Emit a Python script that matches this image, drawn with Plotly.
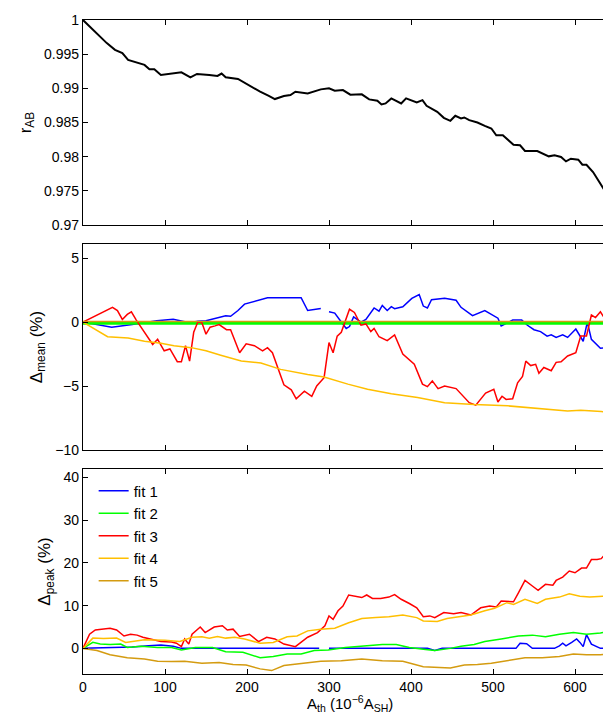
import plotly.graph_objects as go

# top panel: correlation r_AB
r_x = [0, 29, 39, 48, 55, 66, 75, 81, 87, 95, 108, 120, 131, 139, 154, 164, 169, 174, 189, 203, 216, 226, 234,
       245, 253, 259, 274, 290, 300, 307, 317, 326, 340, 349, 359, 364, 369, 376, 388, 394, 407, 414, 419, 432,
       440, 448, 454, 461, 465, 471, 481, 490, 498, 504, 512, 525, 533, 539, 554, 568, 575, 583, 589, 595, 604,
       609, 614, 622, 629, 635, 641, 649]
r_ab = [1.0, 0.99662, 0.99564, 0.99515, 0.99417, 0.99382, 0.99343, 0.99279, 0.99279, 0.99196, 0.99211, 0.99235,
        0.99162, 0.99211, 0.99196, 0.99181, 0.99216, 0.99162, 0.99137, 0.99034, 0.98951, 0.98892, 0.98843, 0.98887,
        0.98902, 0.98951, 0.98926, 0.98985, 0.99, 0.98966, 0.98975, 0.98907, 0.98912, 0.98838, 0.98819, 0.98765,
        0.98779, 0.98853, 0.98779, 0.98853, 0.98794, 0.98828, 0.98745, 0.98657, 0.98569, 0.98525, 0.98598, 0.98559,
        0.98574, 0.98534, 0.985, 0.98451, 0.98412, 0.98314, 0.98314, 0.98176, 0.98167, 0.98083, 0.98083, 0.98005,
        0.9802, 0.97995, 0.97931, 0.97971, 0.97956, 0.97882, 0.97882, 0.97775, 0.97652, 0.97529, 0.97519, 0.97441]

# middle panel: Delta mean (%)
m1_x = [0, 30, 35, 60, 90, 110, 130, 140, 150, 174, 180, 189, 197, 225, 266, 274, 290, 295, 300, 307, 315, 321,
        325, 330, 339, 345, 355, 361, 365, 371, 376, 380, 390, 401, 410, 415, 420, 425, 441, 455, 461, 475, 490,
        506, 510, 524, 535, 542, 550, 558, 566, 571, 577, 585, 591, 601, 610, 615, 620, 631, 641, 650]
m1_y = [0, -0.3, -0.4, -0.2, 0.1, 0.22, -0.05, 0.07, 0.1, 0.5, 0.45, 0.9, 1.4, 1.9, 1.9, 0.9, 1.05, None, 0.8,
        0.7, 0, -0.5, -0.35, 0.4, 0, 0.2, 1.1, 0.85, 1.3, 0.9, 1.2, 1.05, 1.2, 1.85, 2.15, 1.25, 1.1, 1.75, 1.85,
        1.7, 1.15, 0.5, 0.9, 0.3, -0.3, 0.15, 0.15, -0.25, -0.6, -0.75, -1.1, -1.0, -1.2, -1.0, -1.2, -0.55, -1.5,
        0, -1.35, -2.05, -2.0, -2.4]
m2_x = [0, 650]
m2_y = [-0.1, -0.1]
m3_x = [0, 30, 36, 42, 48, 54, 59, 65, 71, 85, 91, 99, 106, 115, 120, 125, 130, 135, 140, 145, 150, 155, 161,
        166, 175, 180, 191, 199, 209, 219, 225, 231, 245, 254, 260, 270, 279, 285, 294, 300, 305, 310, 315, 325,
        331, 339, 345, 351, 355, 361, 371, 380, 390, 404, 414, 420, 426, 433, 441, 455, 471, 479, 491, 501, 506,
        511, 516, 524, 530, 536, 540, 546, 552, 556, 562, 571, 577, 583, 591, 601, 607, 614, 620, 625, 631, 636,
        641, 646, 650]
m3_y = [0, 1.0, 1.15, 0.9, 0.2, 0.6, 0.8, 0.15, -0.45, -1.75, -1.35, -2.25, -2.1, -3.1, -3.1, -1.85, -3.05, -0.8,
        0, -0.05, -0.95, -0.4, -0.3, -0.2, -0.6, -0.6, -2.4, -1.7, -1.85, -2.25, -2.0, -2.4, -4.9, -5.3, -6.0,
        -5.4, -5.8, -5.0, -4.35, -1.6, -2.4, -1.1, -0.8, 1.0, 0.75, -0.25, -0.15, -0.75, -0.5, -1.15, -1.45, -1.0,
        -2.5, -3.3, -4.85, -5.05, -4.6, -5.2, -5.0, -5.2, -6.3, -6.5, -5.55, -5.25, -6.25, -5.8, -6.05, -6.0,
        -4.75, -4.25, -3.05, -3.4, -3.3, -4.0, -3.55, -3.8, -3.15, -3.1, -2.65, -2.4, -1.1, -1.1, 0.55, 0.35,
        0.8, 0.3, 0.8, 0.45, 0]
m4_x = [0, 30, 55, 75, 95, 111, 132, 150, 168, 193, 217, 241, 274, 294, 323, 347, 376, 408, 441, 477, 518, 542,
        575, 591, 607, 632, 650]
m4_y = [0, -1.15, -1.25, -1.5, -1.65, -1.85, -2.0, -2.25, -2.6, -3.05, -3.2, -3.7, -4.1, -4.3, -4.85, -5.25,
        -5.6, -5.9, -6.3, -6.45, -6.55, -6.7, -6.9, -6.95, -6.9, -7.0, -7.15]
m5_x = [0, 650]
m5_y = [0.05, 0.05]

# bottom panel: Delta peak (%)
p1_x = [0, 60, 80, 95, 110, 120, 288, None, 300, 420, 429, 438, 528, 533, 541, 548, 575, 581, 585, 589, 596,
        602, 606, 610, 614, 620, 631, 650]
p1_y = [0, 0.3, 0.6, 0.8, 0.5, 0, 0, None, 0, 0, -0.5, 0, 0, 1.2, 1.1, 0, 0, 0.6, 1.2, 0.6, 1.4, 2.2, 1.4, 0.4,
        3.2, 1.0, 0, 0]
p2_x = [0, 12, 21, 33, 46, 54, 71, 91, 108, 120, 137, 158, 174, 195, 216, 232, 249, 266, 282, 299, 320, 344, 365,
        382, 398, 415, 429, 448, 461, 477, 490, 510, 531, 548, 564, 581, 598, 614, 631, 649]
p2_y = [0, 1.4, 1.0, 0.9, 1.0, 0.2, 0.5, 0.2, 0.2, -0.4, 0.2, 0.2, -0.8, -0.9, -2.2, -1.9, -1.3, -1.3, -0.5,
        -0.4, 0.2, 0.6, 0.9, 0.9, 0.2, -0.2, -0.5, 0, 0.5, 0.9, 1.6, 2.2, 2.9, 3.1, 2.7, 3.3, 3.7, 3.3, 3.6, 4.3]
p3_x = [0, 8, 15, 23, 33, 41, 50, 58, 66, 73, 83, 95, 108, 114, 120, 124, 129, 133, 143, 149, 160, 170, 176, 183,
        191, 203, 214, 224, 234, 245, 259, 274, 286, 295, 300, 305, 311, 317, 324, 334, 340, 346, 353, 363, 373,
        380, 388, 398, 407, 415, 423, 429, 440, 452, 461, 473, 485, 496, 504, 510, 525, 531, 539, 548, 555, 564,
        573, 577, 585, 593, 600, 608, 614, 620, 627, 632, 637, 643, 649]
p3_y = [0, 3.3, 4.3, 4.5, 4.7, 4.3, 2.9, 3.3, 3.1, 2.6, 2.2, 1.6, 1.5, 1.2, 0.4, 2.2, 1.0, 3.3, 5.0, 3.7, 5.0,
        5.3, 4.3, 4.5, 2.8, 3.3, 1.6, 2.6, 2.2, 1.0, 0.4, 2.6, 3.7, 5.3, 7.6, 6.8, 8.8, 9.9, 12.5, 12.2, 11.9,
        12.5, 11.7, 11.7, 12.0, 12.6, 11.5, 10.5, 9.5, 7.4, 7.6, 7.2, 8.4, 8.1, 8.4, 7.8, 9.5, 9.9, 9.7, 11.1,
        10.9, 13.0, 15.9, 14.6, 13.6, 15.0, 14.8, 15.9, 16.7, 18.1, 17.7, 18.8, 18.8, 20.8, 20.8, 21.0, 22.1,
        22.2, 21.8]
p4_x = [0, 12, 25, 41, 52, 62, 75, 100, 118, 133, 145, 154, 164, 174, 185, 197, 216, 232, 249, 261, 274, 290,
        307, 324, 340, 357, 373, 390, 407, 415, 432, 444, 456, 473, 490, 502, 517, 525, 539, 554, 564, 581, 593,
        606, 618, 635, 649]
p4_y = [0, 2.4, 2.3, 2.4, 1.4, 1.6, 2.0, 1.9, 1.6, 2.6, 2.7, 2.4, 2.8, 2.4, 2.6, 2.2, 1.2, 1.4, 2.7, 2.9, 4.1,
        4.5, 4.7, 6.0, 7.0, 7.2, 7.4, 7.8, 7.2, 6.4, 6.3, 7.0, 7.4, 7.8, 8.8, 9.4, 10.7, 10.3, 11.5, 10.5, 11.5,
        12.0, 12.8, 12.2, 12.0, 12.2, 13.6]
p5_x = [0, 17, 33, 54, 75, 91, 108, 124, 145, 166, 183, 199, 216, 230, 245, 266, 290, 315, 340, 365, 390, 415,
        432, 448, 465, 481, 498, 519, 539, 560, 581, 598, 614, 631, 649]
p5_y = [0, -0.5, -1.5, -2.2, -2.5, -3.0, -3.1, -3.0, -3.5, -3.3, -3.8, -3.9, -4.8, -5.2, -4.0, -3.6, -3.0, -2.9,
        -2.5, -2.9, -3.0, -4.3, -4.4, -4.6, -3.9, -3.8, -3.5, -2.9, -2.2, -2.2, -1.9, -1.3, -1.5, -1.5, -1.2]

names = ["fit 1", "fit 2", "fit 3", "fit 4", "fit 5"]
colors = ["#0000ff", "#00ff00", "#ff0000", "#ffbf00", "#d49b10"]

fig = go.Figure()
fig.add_trace(go.Scatter(x=r_x, y=r_ab, mode="lines", line=dict(color="black", width=2),
                         showlegend=False, xaxis="x", yaxis="y"))

mid = [(m1_x, m1_y), (m2_x, m2_y), (m3_x, m3_y), (m4_x, m4_y), (m5_x, m5_y)]
mid_w = [1.5, 3, 1.5, 1.5, 1.5]
for i, (xs, ys) in enumerate(mid):
    fig.add_trace(go.Scatter(x=xs, y=ys, mode="lines", line=dict(color=colors[i], width=mid_w[i]),
                             showlegend=False, xaxis="x2", yaxis="y2"))

peak = [(p1_x, p1_y), (p2_x, p2_y), (p3_x, p3_y), (p4_x, p4_y), (p5_x, p5_y)]
for i, (xs, ys) in enumerate(peak):
    fig.add_trace(go.Scatter(x=xs, y=ys, mode="lines", name=names[i], line=dict(color=colors[i], width=1.5),
                             xaxis="x3", yaxis="y3"))

ax = dict(showline=True, mirror="ticks", linecolor="black", linewidth=1.3, ticks="inside", ticklen=5,
          tickcolor="black", showgrid=False, zeroline=False, tickfont=dict(size=14, color="black"))
xa = dict(ax, range=[0, 650], tickvals=[0, 100, 200, 300, 400, 500, 600])

fig.update_layout(
    width=611, height=717,
    margin=dict(l=75, r=3, t=12, b=51),
    plot_bgcolor="white", paper_bgcolor="white",
    font=dict(family="Liberation Sans, Arial", size=14, color="black"),
    xaxis=dict(xa, anchor="y", showticklabels=False),
    yaxis=dict(ax, domain=[0.6865, 1], range=[0.97, 1], tickvals=[0.97, 0.975, 0.98, 0.985, 0.99, 0.995, 1],
               ticktext=["0.97", "0.975", "0.98", "0.985", "0.99", "0.995", "1"],
               title=dict(text="r<sub>AB</sub>", standoff=8)),
    xaxis2=dict(xa, anchor="y2", showticklabels=False),
    yaxis2=dict(ax, domain=[0.3425, 0.6575], range=[-10, 6.1], tickvals=[-10, -5, 0, 5],
                ticktext=["\u221210", "\u22125", "0", "5"],
                title=dict(text="\u0394<sub>mean</sub> (%)", standoff=8)),
    xaxis3=dict(xa, anchor="y3"),
    yaxis3=dict(ax, domain=[0, 0.3135], range=[-6, 42], tickvals=[0, 10, 20, 30, 40],
                title=dict(text="\u0394<sub>peak</sub> (%)", standoff=8)),
    legend=dict(x=0.02, y=0.305, xanchor="left", yanchor="top", bgcolor="rgba(0,0,0,0)",
                font=dict(size=15), tracegroupgap=0, itemwidth=30),
)
fig.add_annotation(text="A<sub>th</sub> (10<sup>\u22126</sup>A<sub>SH</sub>)", xref="paper", yref="paper",
                   x=0.5, y=-0.045, xanchor="center", yanchor="middle", showarrow=False,
                   font=dict(size=15))

fig.write_html("out.html")
